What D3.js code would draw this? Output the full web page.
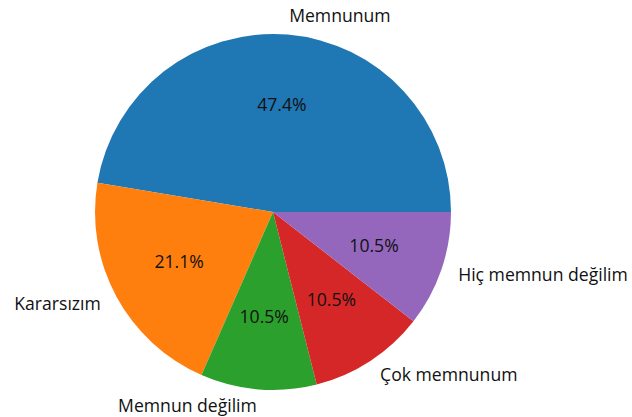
<!DOCTYPE html>
<html>
<head>
<meta charset="utf-8">
<script src="https://cdn.jsdelivr.net/npm/d3@7"></script>
<style>
  body { margin: 0; background: #fff; }
  text { font-family: "Open Sans", sans-serif; font-size: 17.6px; fill: #111; }
</style>
</head>
<body>
<svg id="chart" width="632" height="417"></svg>
<script>
var labels = ["Memnunum", "Kararsızım", "Memnun değilim", "Çok memnunum", "Hiç memnun değilim"];
var counts = [9, 4, 2, 2, 2];
var colors = ["#1f77b4", "#ff7f0e", "#2ca02c", "#d62728", "#9467bd"];

var svg = d3.select("#chart"),
    cx = 273,
    cy = 212,
    radius = 178;

var total = d3.sum(counts);

// matplotlib starts at 3 o'clock and goes counterclockwise
var pie = d3.pie()
    .sort(null)
    .startAngle(Math.PI / 2)
    .endAngle(Math.PI / 2 - 2 * Math.PI);

var arcs = pie(counts);

var arc = d3.arc().innerRadius(0).outerRadius(radius);

var g = svg.append("g")
    .attr("transform", "translate(" + cx + "," + cy + ")");

g.selectAll("path")
    .data(arcs)
    .enter().append("path")
    .attr("d", arc)
    .attr("fill", function(d, i) { return colors[i]; });

function pos(d, k) {
    var a = (d.startAngle + d.endAngle) / 2;
    return [Math.sin(a) * radius * k, -Math.cos(a) * radius * k];
}

g.selectAll(".pct")
    .data(arcs)
    .enter().append("text")
    .attr("class", "pct")
    .attr("x", function(d) { return pos(d, 0.6)[0]; })
    .attr("y", function(d) { return pos(d, 0.6)[1] - 2; })
    .attr("text-anchor", "middle")
    .attr("dominant-baseline", "central")
    .text(function(d) { return (d.value / total * 100).toFixed(1) + "%"; });

g.selectAll(".lbl")
    .data(arcs)
    .enter().append("text")
    .attr("class", "lbl")
    .attr("x", function(d) { return pos(d, 1.1)[0]; })
    .attr("y", function(d) { return pos(d, 1.1)[1] - 2; })
    .attr("text-anchor", function(d) { return pos(d, 1.1)[0] > 0 ? "start" : "end"; })
    .attr("dominant-baseline", "central")
    .text(function(d, i) { return labels[i]; });
</script>
</body>
</html>
